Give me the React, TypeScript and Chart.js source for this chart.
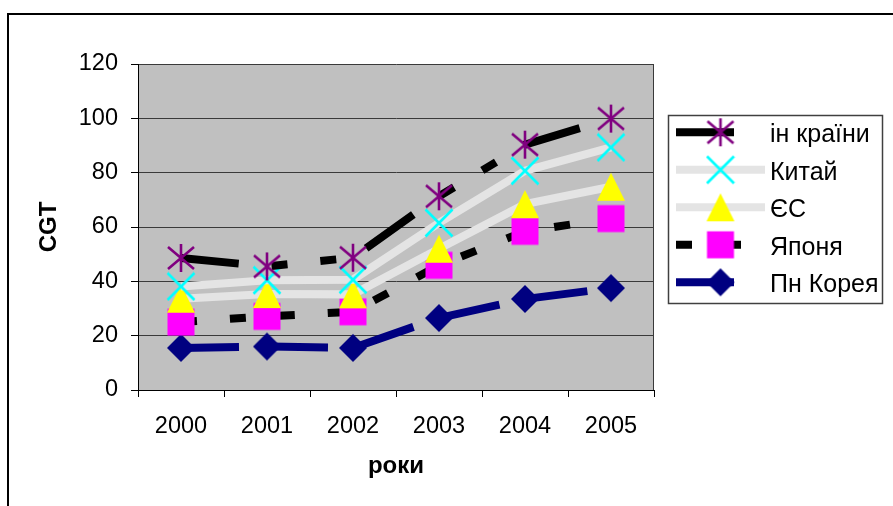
import React, { useEffect, useRef } from 'react';
import { Chart, registerables } from 'chart.js';

Chart.register(...registerables);

// ---- data ----
const categories = ['2000', '2001', '2002', '2003', '2004', '2005'];
const seriesNames = ['ін країни', 'Китай', 'ЄС', 'Японя', 'Пн Корея'];
const inshiKrainy = [48.6, 45.5, 48.7, 71.3, 90.3, 99.9];
const kytai = [38.1, 40.4, 40.6, 61.5, 80.7, 89.3];
const yes = [33.6, 35.3, 35.2, 52, 68.4, 74.8];
const yaponia = [25, 27.1, 28.8, 45.9, 58.4, 63.1];
const pnKoreia = [15.5, 16, 15.5, 26.5, 33.5, 37.5];
const yMin = 0;
const yMax = 120;
const yStep = 20;
const xTitle = 'роки';
const yTitle = 'CGT';

const FONT = '"Liberation Sans", Arial, Helvetica, sans-serif';

function makeMarker(kind: string): HTMLCanvasElement {
  const c = document.createElement('canvas');
  c.width = 30;
  c.height = 30;
  const g = c.getContext('2d') as CanvasRenderingContext2D;
  g.lineCap = 'butt';
  if (kind === 'star') {
    g.strokeStyle = '#800080';
    g.lineWidth = 2.6;
    g.beginPath();
    g.moveTo(15, 1);
    g.lineTo(15, 29);
    g.moveTo(2, 4);
    g.lineTo(28, 26);
    g.moveTo(28, 4);
    g.lineTo(2, 26);
    g.stroke();
  } else if (kind === 'x') {
    g.strokeStyle = '#00ffff';
    g.lineWidth = 2.6;
    g.beginPath();
    g.moveTo(1.5, 1.5);
    g.lineTo(28.5, 28.5);
    g.moveTo(28.5, 1.5);
    g.lineTo(1.5, 28.5);
    g.stroke();
  } else if (kind === 'tri') {
    g.fillStyle = '#ffff00';
    g.beginPath();
    g.moveTo(15, 1);
    g.lineTo(29, 29);
    g.lineTo(1, 29);
    g.closePath();
    g.fill();
  } else if (kind === 'sq') {
    g.fillStyle = '#ff00ff';
    g.fillRect(1.5, 1.5, 27, 27);
  } else if (kind === 'dia') {
    g.fillStyle = '#000080';
    g.beginPath();
    g.moveTo(15, 1);
    g.lineTo(29, 15);
    g.lineTo(15, 29);
    g.lineTo(1, 15);
    g.closePath();
    g.fill();
  }
  return c;
}

const bgPlugin = {
  id: 'excelLook',
  beforeDraw(chart: any) {
    const { ctx, chartArea: a } = chart;
    ctx.save();
    ctx.fillStyle = '#c0c0c0';
    ctx.fillRect(a.left, a.top, a.right - a.left, a.bottom - a.top);
    ctx.restore();
  },
  beforeDatasetsDraw(chart: any) {
    const { ctx, chartArea: a } = chart;
    ctx.save();
    ctx.strokeStyle = '#3a3a3a';
    ctx.lineWidth = 1;
    ctx.beginPath();
    ctx.moveTo(a.right - 0.5, a.top);
    ctx.lineTo(a.right - 0.5, a.bottom);
    ctx.stroke();
    ctx.restore();
  },
  afterDraw(chart: any) {
    const { ctx } = chart;
    const ds = chart.data.datasets;
    ctx.save();
    ctx.fillStyle = '#ffffff';
    ctx.fillRect(668, 115, 215, 188);
    ctx.strokeStyle = '#404040';
    ctx.lineWidth = 1.5;
    ctx.strokeRect(668.5, 115.5, 214, 188);
    ds.forEach((d: any, i: number) => {
      const y = 132.3 + i * 37.5;
      ctx.setLineDash(d.borderDash || []);
      ctx.lineDashOffset = 0;
      ctx.strokeStyle = d.borderColor;
      ctx.lineWidth = d.borderWidth;
      ctx.lineCap = 'butt';
      ctx.beginPath();
      ctx.moveTo(676, y);
      ctx.lineTo(765, y);
      ctx.stroke();
      ctx.setLineDash([]);
      const img = d.pointStyle as HTMLCanvasElement;
      ctx.drawImage(img, 720.5 - img.width / 2, y - img.height / 2);
      ctx.fillStyle = '#000';
      ctx.font = `25px ${FONT}`;
      ctx.textBaseline = 'middle';
      ctx.textAlign = 'left';
      ctx.fillText(d.label, 770, y + 3.3);
    });
    ctx.restore();
  },
};

export default function App() {
  const ref = useRef<HTMLCanvasElement | null>(null);

  useEffect(() => {
    if (!ref.current) return;
    const values = [inshiKrainy, kytai, yes, yaponia, pnKoreia];
    const colors = ['#000000', '#e4e4e4', '#e4e4e4', '#000000', '#000080'];
    const dashes: number[][] = [[58, 33, 16, 33, 16, 33], [], [], [16, 33], [58, 31]];
    const markers = ['star', 'x', 'tri', 'sq', 'dia'].map(makeMarker);

    const chart = new Chart(ref.current, {
      type: 'line',
      data: {
        labels: categories,
        datasets: seriesNames.map((name, i) => ({
          label: name,
          data: values[i],
          borderColor: colors[i],
          backgroundColor: colors[i],
          borderWidth: 8,
          borderDash: dashes[i],
          borderCapStyle: 'butt',
          borderJoinStyle: 'miter',
          pointStyle: markers[i],
          pointRadius: 14,
          pointHoverRadius: 14,
          tension: 0,
          fill: false,
          clip: false,
        })) as any,
      },
      options: {
        responsive: false,
        animation: false,
        devicePixelRatio: 1,
        events: [],
        layout: { padding: { top: 64, right: 239, bottom: 0, left: 0 } },
        plugins: {
          legend: { display: false },
          tooltip: { enabled: false },
        },
        scales: {
          x: {
            type: 'category',
            offset: true,
            grid: {
              display: true,
              drawOnChartArea: false,
              drawTicks: true,
              offset: true,
              tickLength: 7,
              tickColor: '#000',
              color: '#000',
            },
            border: { display: true, color: '#000', width: 1 },
            ticks: {
              color: '#000',
              font: { family: FONT, size: 23.5 },
              padding: 15,
              maxRotation: 0,
              autoSkip: false,
            },
            title: {
              display: true,
              text: xTitle,
              color: '#000',
              font: { family: FONT, size: 24, weight: 'bold' },
              padding: { top: 0, bottom: 25.6 },
            },
            afterFit: (s: any) => {
              s.height = 116;
            },
          },
          y: {
            min: yMin,
            max: yMax,
            ticks: {
              stepSize: yStep,
              color: '#000',
              font: { family: FONT, size: 23.5 },
              padding: 13,
            },
            grid: {
              color: '#3a3a3a',
              lineWidth: 1,
              tickLength: 7,
              tickColor: '#000',
            },
            border: { display: true, color: '#000', width: 1 },
            title: {
              display: true,
              text: yTitle,
              color: '#000',
              font: { family: FONT, size: 24, weight: 'bold' },
              padding: { top: 34.6, bottom: 0 },
            },
            afterFit: (s: any) => {
              s.width = 138;
            },
          },
        },
      } as any,
      plugins: [bgPlugin],
    });
    return () => chart.destroy();
  }, []);

  return (
    <div
      style={{
        position: 'fixed',
        left: 0,
        top: 0,
        width: 893,
        height: 506,
        overflow: 'hidden',
        background: '#fff',
      }}
    >
      <div
        style={{
          position: 'absolute',
          left: 7,
          top: 13,
          width: 1000,
          height: 1000,
          borderLeft: '2px solid #000',
          borderTop: '2px solid #000',
        }}
      />
      <canvas
        ref={ref}
        width={893}
        height={506}
        style={{ position: 'absolute', left: 0, top: 0, width: 893, height: 506 }}
      />
    </div>
  );
}
